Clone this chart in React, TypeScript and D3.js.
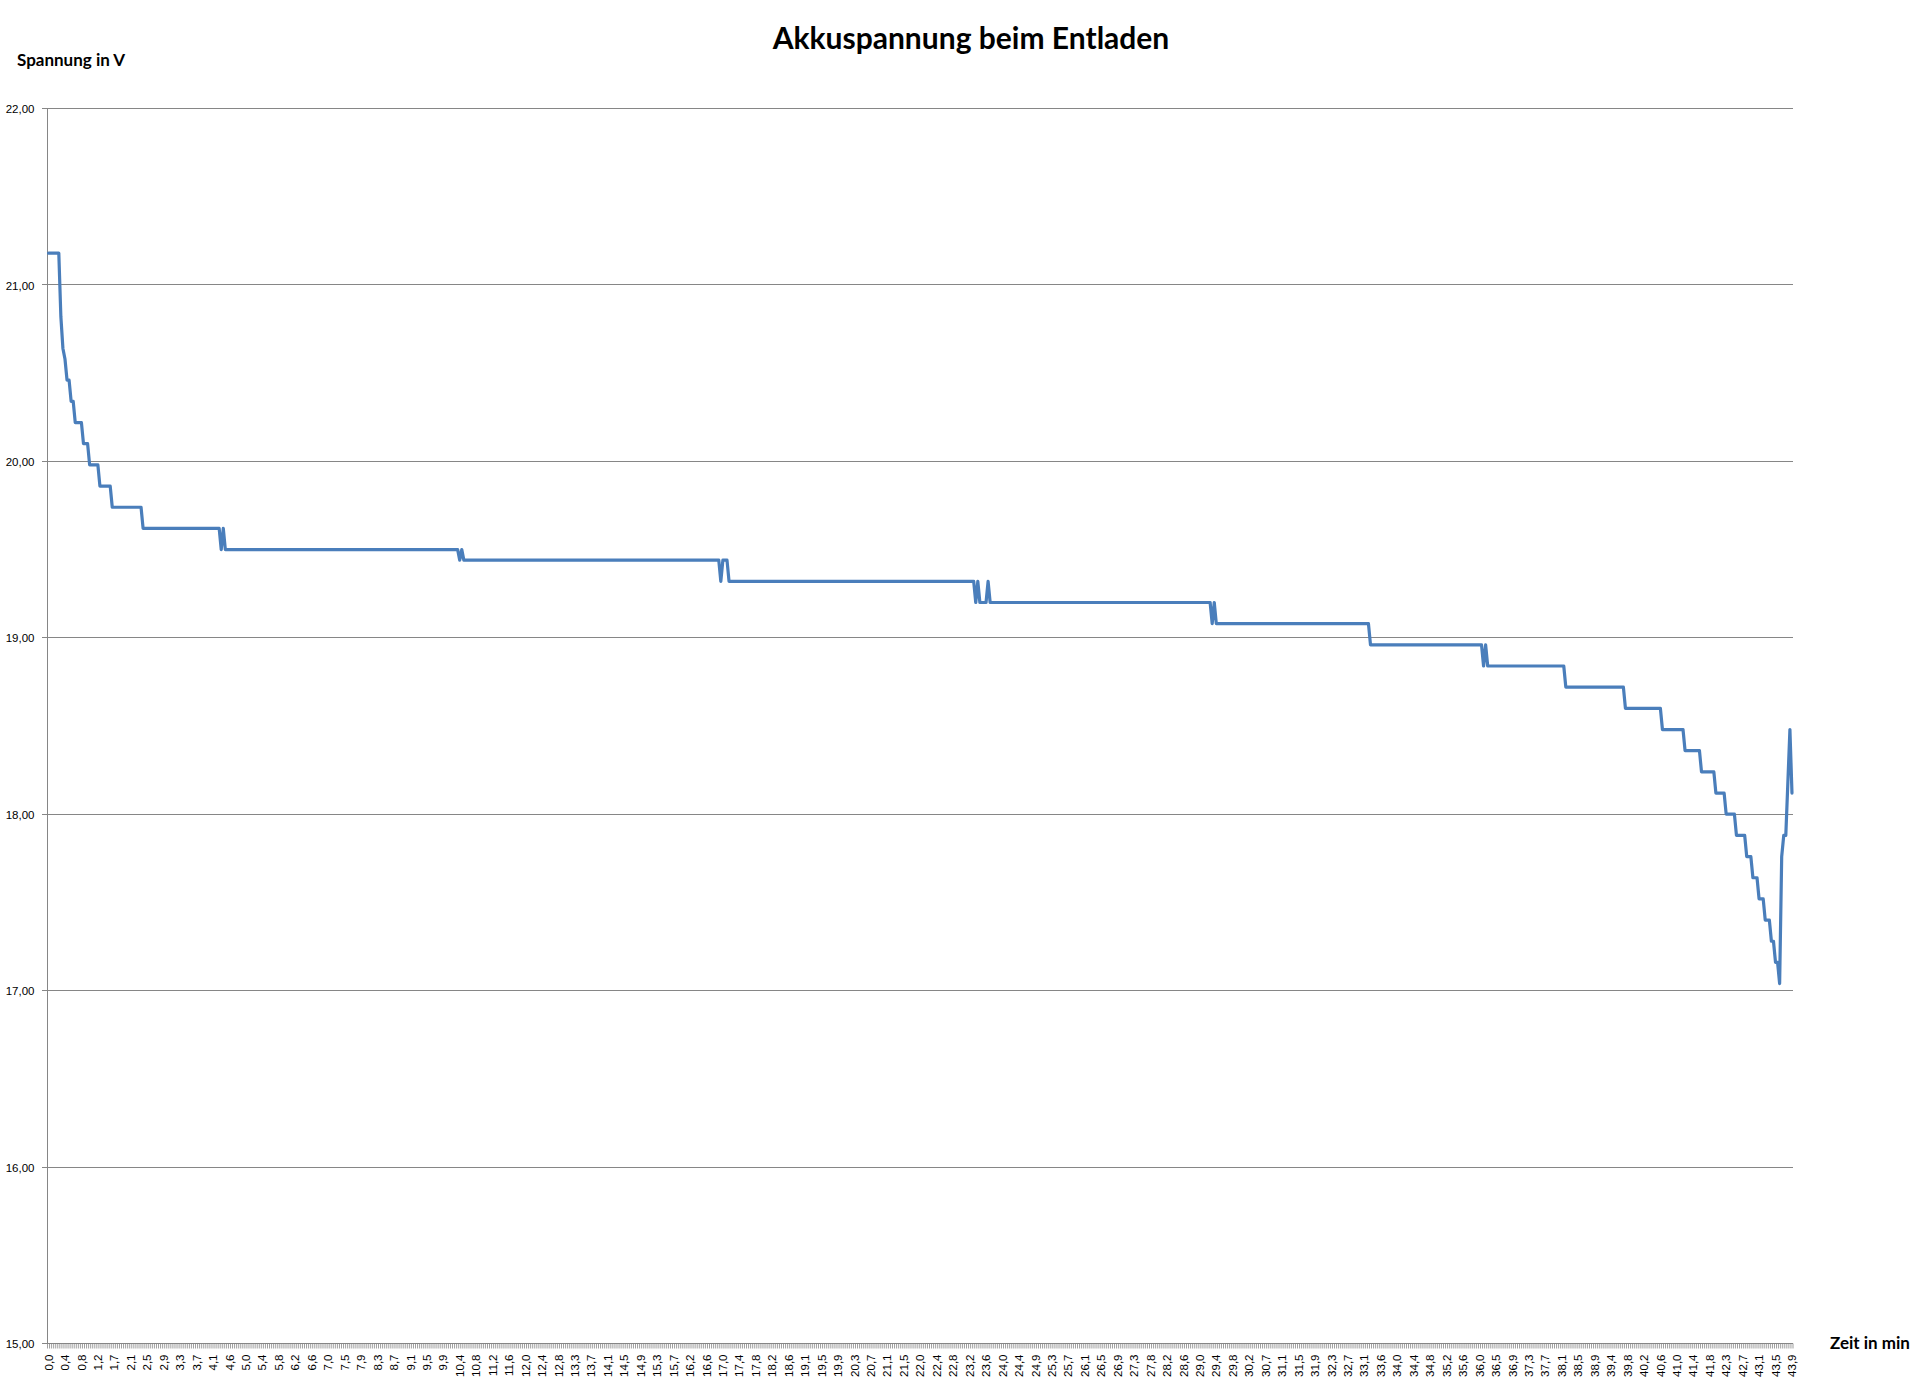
import { scaleLinear, line, range } from "d3";

// category labels shown under the axis (every 8th sample)
const timeLabels = [
  "0,0", "0,4", "0,8", "1,2", "1,7", "2,1", "2,5", "2,9", "3,3", "3,7", "4,1", "4,6", "5,0", "5,4", "5,8",
  "6,2", "6,6", "7,0", "7,5", "7,9", "8,3", "8,7", "9,1", "9,5", "9,9", "10,4", "10,8", "11,2", "11,6",
  "12,0", "12,4", "12,8", "13,3", "13,7", "14,1", "14,5", "14,9", "15,3", "15,7", "16,2", "16,6", "17,0",
  "17,4", "17,8", "18,2", "18,6", "19,1", "19,5", "19,9", "20,3", "20,7", "21,1", "21,5", "22,0", "22,4",
  "22,8", "23,2", "23,6", "24,0", "24,4", "24,9", "25,3", "25,7", "26,1", "26,5", "26,9", "27,3", "27,8",
  "28,2", "28,6", "29,0", "29,4", "29,8", "30,2", "30,7", "31,1", "31,5", "31,9", "32,3", "32,7", "33,1",
  "33,6", "34,0", "34,4", "34,8", "35,2", "35,6", "36,0", "36,5", "36,9", "37,3", "37,7", "38,1", "38,5",
  "38,9", "39,4", "39,8", "40,2", "40,6", "41,0", "41,4", "41,8", "42,3", "42,7", "43,1", "43,5", "43,9",
];
const labelStep = 8;
const sampleCount = (timeLabels.length - 1) * labelStep + 1;

const voltTicks = [15, 16, 17, 18, 19, 20, 21, 22];

// sample index where the voltage changes, and the voltage there
const sampleIdx = [
  0, 5, 6, 7, 8, 9, 10, 11, 12, 13, 16, 17, 19, 20, 24, 25, 30, 31, 45, 46,
  83, 84, 85, 86,
  199, 200, 201, 202,
  326, 327, 328, 330, 331,
  450, 451, 452, 453, 456, 457, 458,
  565, 566, 567, 568,
  642, 643,
  697, 698, 699, 700,
  737, 738,
  766, 767,
  784, 785, 795, 796, 803, 804, 810, 811, 815, 816, 820, 821, 825, 826, 828, 829, 831, 832, 834, 835,
  837, 838, 839, 840, 841, 842, 843, 844, 845, 846, 847, 848,
];
const volts = [
  21.18, 21.18, 20.82, 20.64, 20.58, 20.46, 20.46, 20.34, 20.34, 20.22, 20.22, 20.1, 20.1, 19.98, 19.98, 19.86, 19.86, 19.74, 19.74, 19.62,
  19.62, 19.5, 19.62, 19.5,
  19.5, 19.44, 19.5, 19.44,
  19.44, 19.32, 19.44, 19.44, 19.32,
  19.32, 19.2, 19.32, 19.2, 19.2, 19.32, 19.2,
  19.2, 19.08, 19.2, 19.08,
  19.08, 18.96,
  18.96, 18.84, 18.96, 18.84,
  18.84, 18.72,
  18.72, 18.6,
  18.6, 18.48, 18.48, 18.36, 18.36, 18.24, 18.24, 18.12, 18.12, 18.0, 18.0, 17.88, 17.88, 17.76, 17.76, 17.64, 17.64, 17.52, 17.52, 17.4,
  17.4, 17.28, 17.28, 17.16, 17.16, 17.04, 17.76, 17.88, 17.88, 18.18, 18.48, 18.12,
];

const W = 1927;
const H = 1391;
const left = 47.5;
const right = 1793;
const top = 108.5;
const bottom = 1343.5;
const grey = "#868686";
const titleFont = "Lato, 'Open Sans', sans-serif";
const tickFont = "'Liberation Sans', Arial, sans-serif";

export default function App() {
  const band = (right - left) / sampleCount;
  const x = scaleLinear().domain([0, sampleCount - 1]).range([left + band / 2, right - band / 2]);
  const y = scaleLinear().domain([15, 22]).range([bottom, top]);

  const path = line<number>()
    .x((_, i) => x(sampleIdx[i]))
    .y((d) => y(d))(volts);

  return (
    <svg width={W} height={H} style={{ position: "absolute", left: 0, top: 0, display: "block" }}>
      <rect width={W} height={H} fill="#fff" />

      <text x={971} y={49} textAnchor="middle" fontFamily={titleFont} fontWeight="bold" fontSize={30}>
        Akkuspannung beim Entladen
      </text>
      <text x={17} y={66} fontFamily={titleFont} fontWeight="bold" fontSize={17}>
        Spannung in V
      </text>
      <text x={1830} y={1349} fontFamily={titleFont} fontWeight="bold" fontSize={17}>
        Zeit in min
      </text>

      {/* gridlines and y ticks */}
      {voltTicks.map((v) => (
        <g key={v}>
          <line x1={left} x2={right} y1={y(v)} y2={y(v)} stroke={grey} strokeWidth={1} shapeRendering="crispEdges" />
          <line x1={left - 6} x2={left} y1={y(v)} y2={y(v)} stroke={grey} strokeWidth={1} shapeRendering="crispEdges" />
          <text x={34.5} y={y(v)} dy="0.4em" textAnchor="end" fontFamily={tickFont} fontSize={11.5}>
            {v.toFixed(2).replace(".", ",")}
          </text>
        </g>
      ))}

      {/* y axis */}
      <line x1={left} x2={left} y1={top} y2={bottom} stroke={grey} strokeWidth={1} shapeRendering="crispEdges" />

      {/* category tick marks */}
      {range(sampleCount + 1).map((k) => (
        <line
          key={k}
          x1={left + k * band}
          x2={left + k * band}
          y1={bottom}
          y2={bottom + 5}
          stroke={grey}
          strokeWidth={0.8}
        />
      ))}

      {/* category labels */}
      {timeLabels.map((t, i) => (
        <text
          key={t}
          transform={`translate(${x(i * labelStep)},${bottom + 11}) rotate(-90)`}
          dy="0.36em"
          textAnchor="end"
          fontFamily={tickFont}
          fontSize={11.5}
        >
          {t}
        </text>
      ))}

      <path d={path ?? ""} fill="none" stroke="#4A7EBB" strokeWidth={3.2} strokeLinejoin="round" strokeLinecap="round" />
    </svg>
  );
}
